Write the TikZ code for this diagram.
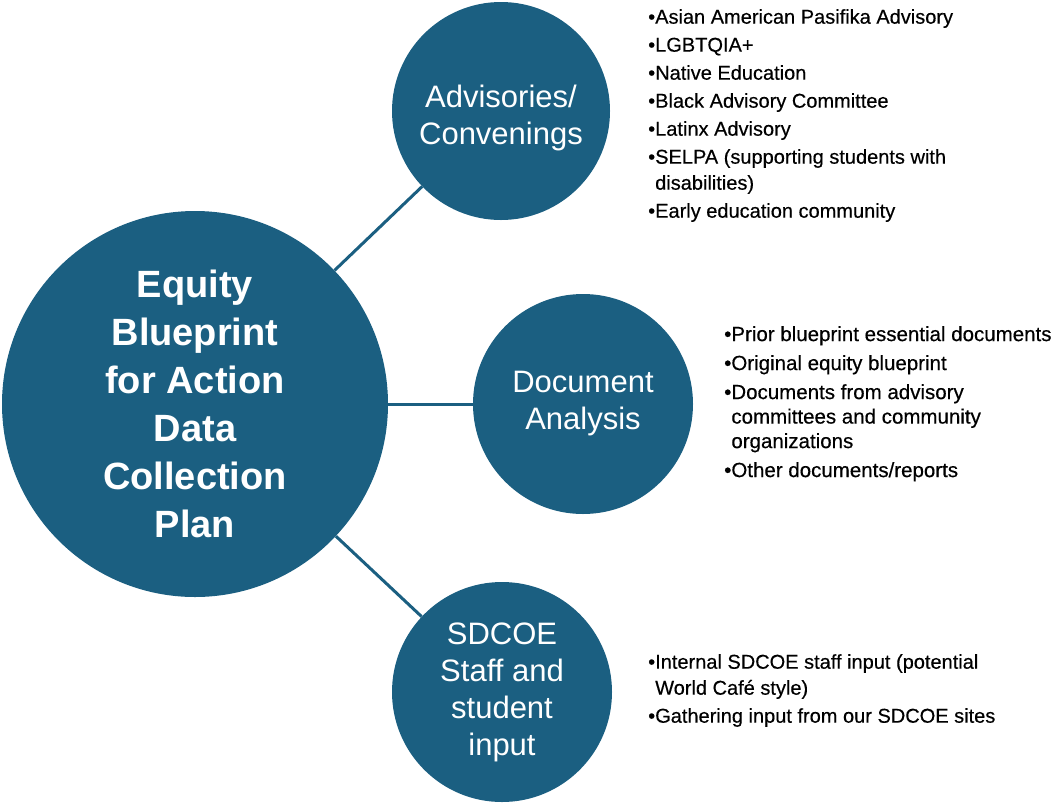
\documentclass[tikz,border=0pt]{standalone}
\usepackage{fontspec}
\setmainfont{Liberation Sans}
\newfontfamily\listfont{Liberation Sans}[FakeBold=0.4]
\usetikzlibrary{positioning}
\definecolor{blueprint}{HTML}{1B5F81}
\tikzset{x=1pt, y=-1pt,
    hub/.style={
        circle,
        fill=blueprint,
        text=white,
        align=center,
        inner sep=0pt},
    bigtext/.style={
        font=\fontsize{38}{48}\selectfont\bfseries},
    smalltext/.style={
        font=\fontsize{31}{37}\selectfont},
    bulletlist/.style={
        anchor=north west,
        align=left,
        inner sep=0pt,
        font=\listfont\fontsize{20}{26}\selectfont},
    link/.style={
        draw=blueprint,
        line width=3pt}}
\newcommand{\ind}{\phantom{\textbullet}}

\begin{document}
\begin{tikzpicture}
        \useasboundingbox (0,0) rectangle (1055,804);

        \node[hub, bigtext, minimum size=386pt] (center) at (195,404)
            {Equity\\Blueprint\\for Action\\Data\\Collection\\Plan};
        \node[hub, minimum size=218pt,
            label={[smalltext, text=white, align=center, yshift=-7pt]center:Advisories/\\Convenings}]
            (adv) at (501,111) {};
        \node[hub, smalltext, minimum size=220pt] (doc) at (583,404)
            {Document\\Analysis};
        \node[hub, smalltext, minimum size=220pt] (staff) at (502,692)
            {SDCOE\\Staff and\\student\\input};

        \draw[link] (center) -- (adv);
        \draw[link] (center) -- (doc);
        \draw[link] (center) -- (staff);

        \node[bulletlist] (advlist) at (648,9) {%
            \textbullet Asian American Pasifika Advisory\\[2pt]
            \textbullet LGBTQIA+\\[2pt]
            \textbullet Native Education\\[2pt]
            \textbullet Black Advisory Committee\\[2pt]
            \textbullet Latinx Advisory\\[2pt]
            \textbullet SELPA (supporting students with\\
            \ind disabilities)\\[2pt]
            \textbullet Early education community};
        \node[bulletlist, font=\listfont\fontsize{20.5}{24.5}\selectfont] (doclist) at (724,326) {%
            \textbullet Prior blueprint essential documents\\[4.5pt]
            \textbullet Original equity blueprint\\[4.5pt]
            \textbullet Documents from advisory\\
            \ind committees and community\\
            \ind organizations\\[4.5pt]
            \textbullet Other documents/reports};
        \node[bulletlist] (stafflist) at (648,654) {%
            \textbullet Internal SDCOE staff input (potential\\
            \ind World Caf\'e style)\\[2pt]
            \textbullet Gathering input from our SDCOE sites};
\end{tikzpicture}
\end{document}
